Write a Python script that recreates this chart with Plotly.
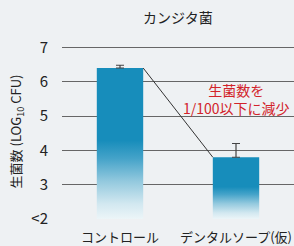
import plotly.graph_objects as go

categories = ["コントロール", "デンタルソープ(仮)"]
values = [6.4, 3.8]
errors = [0.08, 0.4]
y_tickvals = [2, 3, 4, 5, 6, 7]
y_ticktext = ["<2", "3", "4", "5", "6", "7"]
title_text = "カンジタ菌"
ytitle_text = "生菌数 (LOG<sub>10</sub> CFU)"
note_text = "生菌数を<br>1/100以下に減少"

FONT = "Noto Sans CJK JP"
BAR_W = 0.4
BASE = 2
bar_color = "#178dbb"
bg = "#eef1f3"

fig = go.Figure()

# gradient bars built from the data
for i, v in enumerate(values):
    x0, x1 = i - BAR_W / 2, i + BAR_W / 2
    fig.add_trace(go.Scatter(
        x=[x0, x1, x1, x0, x0], y=[BASE, BASE, v, v, BASE],
        mode="lines", fill="toself", line=dict(width=0),
        fillgradient=dict(type="vertical", start=BASE, stop=v,
                          colorscale=[[0, "#ecf5f8"], [0.1, "#d2e8f0"],
                                      [0.25, "#93c9de"], [0.4, "#45a3c9"],
                                      [0.52, bar_color], [1, bar_color]]),
        hoverinfo="skip", showlegend=False))

# error bars
fig.add_trace(go.Scatter(
    x=list(range(len(values))), y=values, mode="markers",
    marker=dict(size=1, color="rgba(0,0,0,0)"),
    error_y=dict(type="data", array=errors, symmetric=False,
                 arrayminus=[0] * len(values), color="#444", thickness=1.2, width=4),
    showlegend=False, hoverinfo="skip"))

# connecting line from top-right of bar 1 to top-left of bar 2
fig.add_trace(go.Scatter(
    x=[0 + BAR_W / 2, 1 - BAR_W / 2], y=[values[0], values[1]],
    mode="lines", line=dict(color="#333", width=1),
    showlegend=False, hoverinfo="skip"))

fig.add_annotation(x=1.0, y=5.5, xref="x", yref="y", text=note_text,
                   showarrow=False, font=dict(family=FONT, size=14, color="#d2232a"),
                   align="center")

fig.update_layout(
    width=294, height=246,
    margin=dict(l=62, r=0, t=44, b=27),
    paper_bgcolor=bg, plot_bgcolor=bg,
    font=dict(family=FONT, color="#222"),
    title=dict(text=title_text, x=0.605, xanchor="center", y=0.925, yanchor="middle",
               font=dict(family=FONT, size=14, color="#222")),
    xaxis=dict(range=[-0.5, 1.5], tickvals=[0, 1], ticktext=categories,
               showgrid=False, zeroline=False, showline=False,
               ticks="outside", ticklen=6, tickcolor="rgba(0,0,0,0)",
               ticklabeloverflow="allow",
               tickfont=dict(family=FONT, size=13, color="#222")),
    yaxis=dict(range=[2, 7.1], tickvals=y_tickvals, ticktext=y_ticktext,
               showgrid=True, gridcolor="#666", gridwidth=1, zeroline=False,
               showline=False, ticks="outside", ticklen=10,
               tickcolor="rgba(0,0,0,0)",
               tickfont=dict(family=FONT, size=15, color="#222"),
               title=dict(text=ytitle_text, standoff=6,
                          font=dict(family=FONT, size=13, color="#222"))),
)

fig.write_html("out.html", config={"displayModeBar": False},
               post_script="document.body.style.margin='0';document.body.style.overflow='hidden';")
